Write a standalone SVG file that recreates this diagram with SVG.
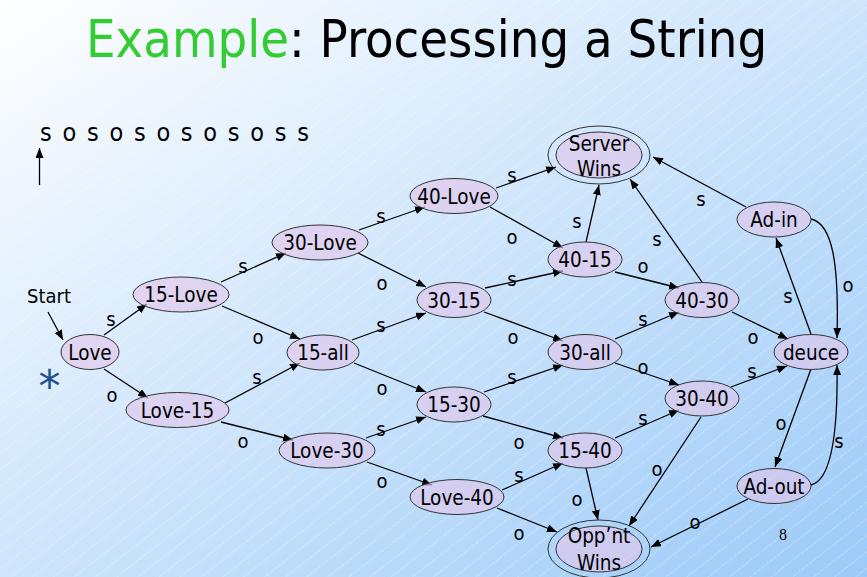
<svg xmlns="http://www.w3.org/2000/svg" width="867" height="577" viewBox="0 0 867 577">
  <defs>
    <linearGradient id="bg" x1="0" y1="0" x2="1" y2="1">
      <stop offset="0" stop-color="#ffffff"/>
      <stop offset="1" stop-color="#9ccaf8"/>
    </linearGradient>
    <pattern id="hatch" patternUnits="userSpaceOnUse" width="20" height="13" patternTransform="rotate(-38)">
      <line x1="0" y1="6.5" x2="20" y2="6.5" stroke="#ffffff" stroke-opacity="0.4" stroke-width="0.7" stroke-dasharray="4 1"/>
    </pattern>
    <marker id="arr" markerUnits="userSpaceOnUse" markerWidth="11" markerHeight="9" refX="10" refY="4" orient="auto">
      <path d="M0,0 L10,4 L0,8 z" fill="#000"/>
    </marker>
    <style>
      .txt { font-family: "DejaVu Sans Condensed", "DejaVu Sans", sans-serif; font-stretch: condensed; fill: #000; }
      .node ellipse { fill: rgb(225,198,235); fill-opacity: 0.63; stroke: #333; stroke-width: 1; }
      .node ellipse.ring { fill: none; }
      .node text { font-family: "DejaVu Sans Condensed", "DejaVu Sans", sans-serif; font-stretch: condensed; font-size: 20.5px; text-anchor: middle; }
      #edges path { fill: none; stroke: #000; stroke-width: 1.3; marker-end: url(#arr); }
      #edge-labels text { font-family: "DejaVu Sans Condensed", "DejaVu Sans", sans-serif; font-stretch: condensed; font-size: 20px; text-anchor: middle; }
    </style>
  </defs>

  <!-- slide background -->
  <rect width="867" height="577" fill="url(#bg)"/>
  <rect width="867" height="577" fill="url(#hatch)"/>

  <!-- title -->
  <text class="txt" x="86" y="57" font-size="52"><tspan fill="#33cc33">Example</tspan>: Processing a String</text>

  <!-- input string and read pointer -->
  <text class="txt" x="40" y="141" font-size="25" letter-spacing="1.8" xml:space="preserve">s o s o s o s o s o s s</text>
  <path d="M39.5,185 L39.5,148" stroke="#000" stroke-width="1.3" marker-end="url(#arr)"/>

  <!-- start marker -->
  <text class="txt" x="27" y="303" font-size="20">Start</text>
  <path d="M48,312 L63,340" stroke="#000" stroke-width="1.3" marker-end="url(#arr)"/>

  <!-- bullet -->
  <text x="49.5" y="402" font-family="DejaVu Sans, sans-serif" font-size="44" fill="#1f4f8f" text-anchor="middle">*</text>

  <!-- page number -->
  <text x="783" y="540" font-family="Liberation Serif, serif" font-size="16" text-anchor="middle" fill="#000">8</text>

  <g id="edges">
    <path d="M104,335 L147,304"/>
    <path d="M104,369 L148,398"/>
    <path d="M221,282 L286,253"/>
    <path d="M222,306 L300,339"/>
    <path d="M225,403 L300,363"/>
    <path d="M221,422 L293,440"/>
    <path d="M359,230 L425,207"/>
    <path d="M358,253 L426,287"/>
    <path d="M352,340 L426,313"/>
    <path d="M354,363 L426,392"/>
    <path d="M366,438 L426,417"/>
    <path d="M367,462 L432,485"/>
    <path d="M496,188 L556,167"/>
    <path d="M490,207 L563,248"/>
    <path d="M485,288 L563,271"/>
    <path d="M484,312 L563,341"/>
    <path d="M484,392 L563,365"/>
    <path d="M483,416 L563,438"/>
    <path d="M502,490 L563,463"/>
    <path d="M497,508 L557,532"/>
    <path d="M586,242 L599,185"/>
    <path d="M615,272 L679,288"/>
    <path d="M615,339 L679,312"/>
    <path d="M615,363 L679,385"/>
    <path d="M615,438 L679,410"/>
    <path d="M586,468 L598,520"/>
    <path d="M702,282 L630,179"/>
    <path d="M746,207 L653,157"/>
    <path d="M732,312 L788,339"/>
    <path d="M731,387 L787,366"/>
    <path d="M701,417 L629,526"/>
    <path d="M748,499 L651,547"/>
    <path d="M811,334 L776,238"/>
    <path d="M811,219 C833,224 839,265 837,338"/>
    <path d="M811,369 L775,467"/>
    <path d="M811,485 C832,480 838,430 837,365"/>
  </g>

  <g id="edge-labels">
    <text x="111" y="325.5">s</text>
    <text x="112" y="401.5">o</text>
    <text x="243" y="272.5">s</text>
    <text x="258" y="343.5">o</text>
    <text x="257" y="383.5">s</text>
    <text x="243" y="447.5">o</text>
    <text x="381" y="222.5">s</text>
    <text x="382" y="289.5">o</text>
    <text x="381" y="331.5">s</text>
    <text x="382" y="394.5">o</text>
    <text x="381" y="435.5">s</text>
    <text x="382" y="487.5">o</text>
    <text x="512" y="181.5">s</text>
    <text x="512" y="243.5">o</text>
    <text x="512" y="285.5">s</text>
    <text x="513" y="343.5">o</text>
    <text x="512" y="383.5">s</text>
    <text x="519" y="448.5">o</text>
    <text x="519" y="481.5">s</text>
    <text x="519" y="539.5">o</text>
    <text x="577" y="227.5">s</text>
    <text x="643" y="272.5">o</text>
    <text x="643" y="325.5">s</text>
    <text x="643" y="373.5">o</text>
    <text x="643" y="424.5">s</text>
    <text x="577" y="505.5">o</text>
    <text x="657" y="245.5">s</text>
    <text x="701" y="205.5">s</text>
    <text x="753" y="343.5">o</text>
    <text x="752" y="377.5">s</text>
    <text x="657" y="475.5">o</text>
    <text x="695" y="528.5">o</text>
    <text x="788" y="302.5">s</text>
    <text x="848" y="291.5">o</text>
    <text x="781" y="429.5">o</text>
    <text x="839" y="447.5">s</text>
  </g>

  <g id="n-love" class="node"><ellipse cx="90" cy="352" rx="29" ry="17.5"/><text x="90" y="359.5">Love</text></g>
  <g id="n-15-love" class="node"><ellipse cx="181" cy="294.5" rx="48" ry="17.5"/><text x="181" y="302">15-Love</text></g>
  <g id="n-love-15" class="node"><ellipse cx="177.5" cy="410" rx="51.5" ry="17.5"/><text x="177.5" y="417.5">Love-15</text></g>
  <g id="n-30-love" class="node"><ellipse cx="320" cy="242.5" rx="48" ry="17.5"/><text x="320" y="250">30-Love</text></g>
  <g id="n-15-all" class="node"><ellipse cx="323" cy="352.5" rx="36" ry="17.5"/><text x="323" y="360">15-all</text></g>
  <g id="n-love-30" class="node"><ellipse cx="327" cy="450.5" rx="48" ry="17.5"/><text x="327" y="458">Love-30</text></g>
  <g id="n-40-love" class="node"><ellipse cx="454" cy="196" rx="44" ry="17.5"/><text x="454" y="203.5">40-Love</text></g>
  <g id="n-30-15" class="node"><ellipse cx="454" cy="300" rx="37" ry="17.5"/><text x="454" y="307.5">30-15</text></g>
  <g id="n-15-30" class="node"><ellipse cx="454" cy="404.5" rx="37" ry="17.5"/><text x="454" y="412">15-30</text></g>
  <g id="n-love-40" class="node"><ellipse cx="457" cy="497" rx="47" ry="17.5"/><text x="457" y="504.5">Love-40</text></g>
  <g id="n-40-15" class="node"><ellipse cx="585" cy="259.5" rx="37" ry="17.5"/><text x="585" y="267">40-15</text></g>
  <g id="n-30-all" class="node"><ellipse cx="585" cy="352" rx="37" ry="17.5"/><text x="585" y="359.5">30-all</text></g>
  <g id="n-15-40" class="node"><ellipse cx="585" cy="450.5" rx="37" ry="17.5"/><text x="585" y="458">15-40</text></g>
  <g id="n-40-30" class="node"><ellipse cx="702" cy="300" rx="37" ry="17.5"/><text x="702" y="307.5">40-30</text></g>
  <g id="n-30-40" class="node"><ellipse cx="702" cy="398.5" rx="37" ry="17.5"/><text x="702" y="406">30-40</text></g>
  <g id="n-ad-in" class="node"><ellipse cx="774" cy="219.5" rx="37" ry="17.5"/><text x="774" y="227">Ad-in</text></g>
  <g id="n-deuce" class="node"><ellipse cx="811" cy="352" rx="37" ry="17.5"/><text x="811" y="359.5">deuce</text></g>
  <g id="n-ad-out" class="node"><ellipse cx="774" cy="486" rx="37" ry="17.5"/><text x="774" y="493.5">Ad-out</text></g>
  <g id="n-server-wins" class="node">
    <ellipse class="ring" cx="599" cy="155" rx="51" ry="29"/>
    <ellipse cx="599" cy="155" rx="43" ry="23"/>
    <text x="599" y="151">Server</text>
    <text x="599" y="176">Wins</text>
  </g>
  <g id="n-oppnt-wins" class="node">
    <ellipse class="ring" cx="599" cy="549" rx="51" ry="29"/>
    <ellipse cx="599" cy="549" rx="43" ry="23"/>
    <text x="599" y="543">Opp’nt</text>
    <text x="599" y="570">Wins</text>
  </g>
</svg>
